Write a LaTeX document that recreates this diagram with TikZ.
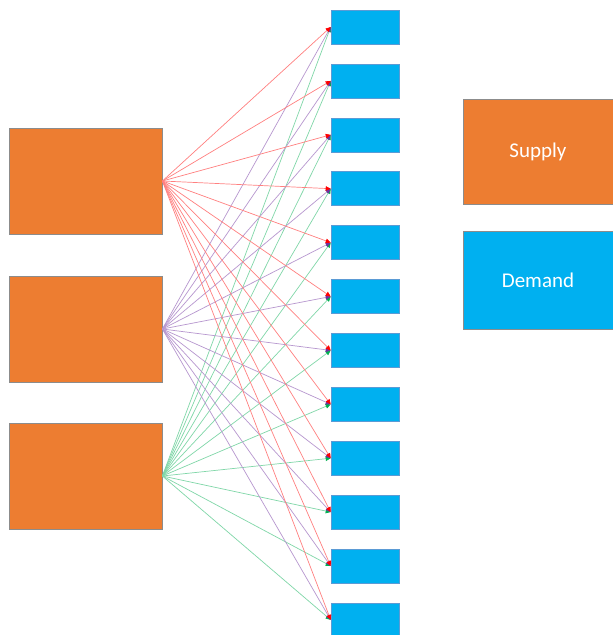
\documentclass[tikz,border=0pt]{standalone}
\usepackage{fontspec}
\setmainfont{Carlito}
\usetikzlibrary{arrows.meta}
\definecolor{orng}{HTML}{ED7D31}
\definecolor{sky}{HTML}{00B0F0}
\definecolor{edgegray}{HTML}{8C8C8C}
\definecolor{edgeblue}{HTML}{5B9BD5}
\definecolor{lnred}{HTML}{FF0000}
\definecolor{lnpurple}{HTML}{7030A0}
\definecolor{lngreen}{HTML}{00B050}
\begin{document}
\begin{tikzpicture}[x=1pt,y=-1pt,
  srcbox/.style={rectangle, fill=orng, draw=edgegray, line width=0.8pt,
    minimum width=153pt, minimum height=106pt, inner sep=0pt},
  sinkbox/.style={rectangle, fill=sky, draw=edgeblue, line width=0.6pt,
    minimum width=68pt, minimum height=34pt, inner sep=0pt},
  keytext/.style={text=white, font=\fontsize{21}{25}\selectfont},
  flow/.style={draw=#1!50, line width=0.7pt,
    -{Triangle[length=5pt,width=4.5pt,color=#1]}}]
  \clip (0,0) rectangle (613,635);
  \fill[white] (0,0) rectangle (613,635);

  % supply nodes
  \node[srcbox] (s1) at (85.5,181) {};
  \node[srcbox] (s2) at (85.5,329) {};
  \node[srcbox] (s3) at (85.5,476) {};

  % demand nodes
  \foreach \k in {1,...,12}
    \node[sinkbox] (d\k) at (365,{27+53.9*(\k-1)}) {};

  % legend
  \node[srcbox, minimum width=150pt, minimum height=105pt, keytext] (supply) at (538,151.5) {Supply};
  \node[sinkbox, draw=edgegray, line width=0.8pt, minimum width=150pt, minimum height=98pt, keytext] (demand) at (538,280) {Demand};

  % flows from every supply to every demand
  \foreach \s/\c in {3/lngreen,2/lnpurple,1/lnred}
    \foreach \d in {1,...,12}
      \draw[flow=\c] (s\s.east) -- (d\d.west);
\end{tikzpicture}
\end{document}
